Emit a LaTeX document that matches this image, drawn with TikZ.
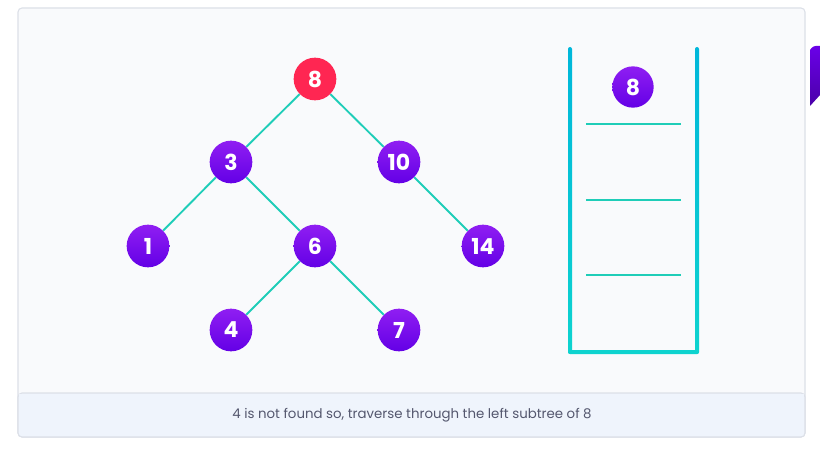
\documentclass[tikz,border=0pt]{standalone}
\usepackage{fontspec}
\setmainfont{Poppins}
\usepackage{xcolor}
\usepackage{tikz}
\definecolor{cardBg}{HTML}{F9FAFC}
\definecolor{cardLine}{HTML}{DCE0E8}
\definecolor{capBg}{HTML}{EFF4FC}
\definecolor{capText}{HTML}{54576E}
\definecolor{edgeTeal}{HTML}{1FCDB8}
\definecolor{wallTop}{HTML}{00B7DA}
\definecolor{wallBot}{HTML}{0ED3CF}
\definecolor{nodeTop}{HTML}{8F1EF2}
\definecolor{nodeBot}{HTML}{6400E6}
\definecolor{rootRed}{HTML}{FF2652}
\definecolor{tabTop}{HTML}{6A00E8}
\definecolor{tabBot}{HTML}{4A00A8}

\begin{document}
\begin{tikzpicture}[
    x=0.75pt, y=-0.75pt,
    every node/.style={font=\bfseries\fontsize{16.5}{18}\selectfont, text=white},
    key/.style={circle, minimum size=32pt, inner sep=0pt, top color=nodeTop, bottom color=nodeBot},
    hit/.style={circle, minimum size=32pt, inner sep=0pt, fill=rootRed},
    link/.style={draw=edgeTeal, line width=1.4pt},
    shelf/.style={draw=edgeTeal, line width=1.5pt},
]
  \useasboundingbox (0,0) rectangle (820,449);
  \fill[white] (0,0) rectangle (820,449);
  % card and caption band
  \filldraw[fill=cardBg, draw=cardLine, line width=0.8pt, rounded corners=3pt] (18,8) rectangle (805,437);
  \filldraw[fill=capBg, draw=cardLine, line width=0.8pt, rounded corners=3pt] (18,393) rectangle (805,437);
  \fill[capBg] (18.6,393.6) rectangle (804.4,400);
  \node[font=\fontsize{10}{12}\selectfont, text=capText] (caption) at (412,415)
    {4 is not found so, traverse through the left subtree of 8};
  % purple tab at the right edge
  \shade[top color=tabTop, bottom color=tabBot] (810,50) to[rounded corners=2pt] (813,46) -- (820,46) -- (820,95) -- (810,106) -- cycle;
  % tree keys
  \node[hit] (n8)  at (315,79)  {8};
  \node[key] (n3)  at (231,162) {3};
  \node[key] (n10) at (399,162) {10};
  \node[key] (n1)  at (148,246) {1};
  \node[key] (n6)  at (315,246) {6};
  \node[key] (n14) at (483,246) {14};
  \node[key] (n4)  at (231,330) {4};
  \node[key] (n7)  at (399,330) {7};
  % tree edges
  \draw[link] (n8) -- (n3);
  \draw[link] (n8) -- (n10);
  \draw[link] (n3) -- (n1);
  \draw[link] (n3) -- (n6);
  \draw[link] (n10) -- (n14);
  \draw[link] (n6) -- (n4);
  \draw[link] (n6) -- (n7);
  % stack
  \shade[top color=wallTop, bottom color=wallBot, rounded corners=1.5pt] (568,47) rectangle (572,354);
  \shade[top color=wallTop, bottom color=wallBot, rounded corners=1.5pt] (695,47) rectangle (699,354);
  \fill[wallBot, rounded corners=1.5pt] (568,350) rectangle (699,354);
  \draw[shelf] (586,124) -- (681,124);
  \draw[shelf] (586,200) -- (681,200);
  \draw[shelf] (586,275) -- (681,275);
  \node[key, minimum size=31pt] (s8) at (633,87) {8};
\end{tikzpicture}
\end{document}
